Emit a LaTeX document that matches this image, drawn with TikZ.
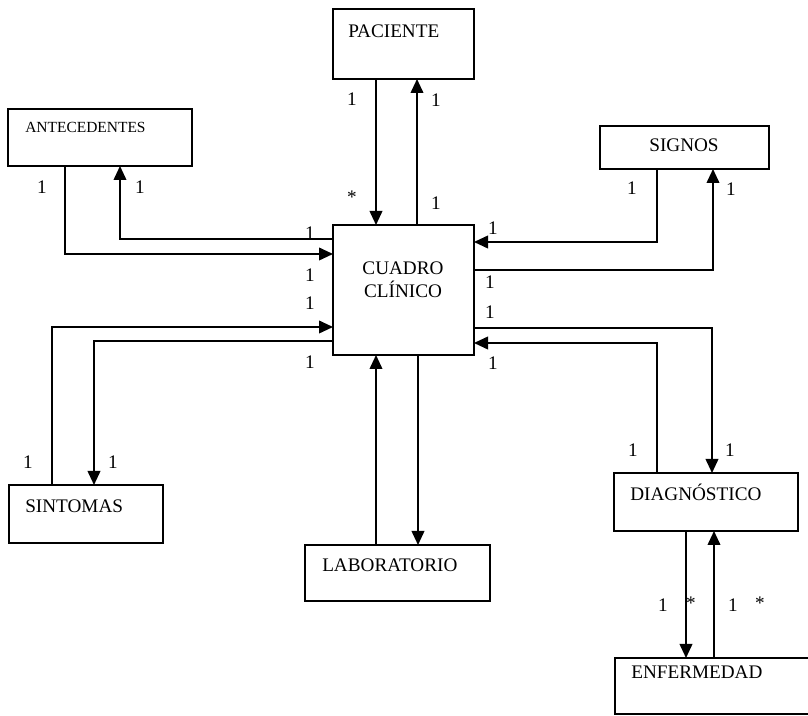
\documentclass[tikz,border=0pt]{standalone}
\usepackage{fontspec}
\setmainfont{Liberation Serif}
\usetikzlibrary{arrows.meta}
\begin{document}
\begin{tikzpicture}[x=0.75pt,y=-0.75pt,
  entity/.style 2 args={draw, line width=1.3pt, rectangle, inner sep=0pt, outer sep=0pt,
    anchor=north west, minimum width=#1*0.75pt, minimum height=#2*0.75pt},
  name text/.style={font=\fontsize{14.4}{17}\selectfont, inner sep=0pt, anchor=base west},
  small name/.style={name text, font=\fontsize{11.6}{14}\selectfont},
  link/.style={line width=1.3pt},
  arr/.style={link, -{Triangle[length=10.5pt,width=9.5pt]}},
  mult/.style={font=\fontsize{14.4}{17}\selectfont, inner sep=0pt}]

\useasboundingbox (0,0) rectangle (808,716);
\clip (0,0) rectangle (808,716);

% entities
\node[entity={141}{70}]  (pac) at (333,9)   {};
\node[entity={184}{57}]  (ant) at (8,109)   {};
\node[entity={169}{43}]  (sig) at (600,126) {};
\node[entity={141}{130}] (cc)  at (333,225) {};
\node[entity={154}{58}]  (sin) at (9,485)   {};
\node[entity={185}{56}]  (lab) at (305,545) {};
\node[entity={184}{58}]  (dia) at (614,473) {};
\node[entity={210}{56}]  (enf) at (615,658) {};

% entity names
\node[name text]  (pacT) at (348,38)  {PACIENTE};
\node[small name] (antT) at (25,133)  {ANTECEDENTES};
\node[name text, anchor=base] (sigT) at (684,152) {SIGNOS};
\node[name text, anchor=center, align=center] (ccT) at (403,280) {CUADRO\\CLÍNICO};
\node[name text]  (sinT) at (25,513)  {SINTOMAS};
\node[name text]  (labT) at (322,572) {LABORATORIO};
\node[name text]  (diaT) at (630,501) {DIAGNÓSTICO};
\node[name text]  (enfT) at (631,679) {ENFERMEDAD};

% lanes and corners of the connectors
\coordinate (cP1) at (376,0);
\coordinate (cP2) at (417,0);
\coordinate (cL1) at (376,0);
\coordinate (cL2) at (418,0);
\coordinate (cE1) at (686,0);
\coordinate (cE2) at (714,0);
\coordinate (cA1) at (65,254);
\coordinate (cA2) at (120,239);
\coordinate (cS1) at (52,327);
\coordinate (cS2) at (94,341);
\coordinate (cG1) at (657,242);
\coordinate (cG2) at (713,270);
\coordinate (cD1) at (712,328);
\coordinate (cD2) at (657,343);

% connectors
\draw[arr] (pac.south -| cP1) -- (cc.north -| cP1);
\draw[arr] (cc.north -| cP2) -- (pac.south -| cP2);

\draw[arr] (ant.south -| cA1) |- (cc.west |- cA1);
\draw[arr] (cc.west |- cA2) -| (ant.south -| cA2);

\draw[arr] (sin.north -| cS1) |- (cc.west |- cS1);
\draw[arr] (cc.west |- cS2) -| (sin.north -| cS2);

\draw[arr] (sig.south -| cG1) |- (cc.east |- cG1);
\draw[arr] (cc.east |- cG2) -| (sig.south -| cG2);

\draw[arr] (cc.east |- cD1) -| (dia.north -| cD1);
\draw[arr] (dia.north -| cD2) |- (cc.east |- cD2);

\draw[arr] (lab.north -| cL1) -- (cc.south -| cL1);
\draw[arr] (cc.south -| cL2) -- (lab.north -| cL2);

\draw[arr] (dia.south -| cE1) -- (enf.north -| cE1);
\draw[arr] (enf.north -| cE2) -- (dia.south -| cE2);

% multiplicities
\node[mult] (m1)  at (352,99)  {1};
\node[mult] (m2)  at (352,197) {*};
\node[mult] (m3)  at (436,100) {1};
\node[mult] (m4)  at (436,203) {1};

\node[mult] (m5)  at (42,187)  {1};
\node[mult] (m6)  at (140,187) {1};
\node[mult] (m7)  at (310,233) {1};
\node[mult] (m8)  at (310,275) {1};

\node[mult] (m9)  at (28,462)  {1};
\node[mult] (m10) at (113,462) {1};
\node[mult] (m11) at (310,303) {1};
\node[mult] (m12) at (310,362) {1};

\node[mult] (m13) at (632,188) {1};
\node[mult] (m14) at (731,189) {1};
\node[mult] (m15) at (493,228) {1};
\node[mult] (m16) at (490,282) {1};

\node[mult] (m17) at (633,450) {1};
\node[mult] (m18) at (730,450) {1};
\node[mult] (m19) at (490,312) {1};
\node[mult] (m20) at (493,363) {1};

\node[mult] (m21) at (663,605) {1};
\node[mult] (m22) at (691,603) {*};
\node[mult] (m23) at (733,605) {1};
\node[mult] (m24) at (760,603) {*};
\end{tikzpicture}
\end{document}
